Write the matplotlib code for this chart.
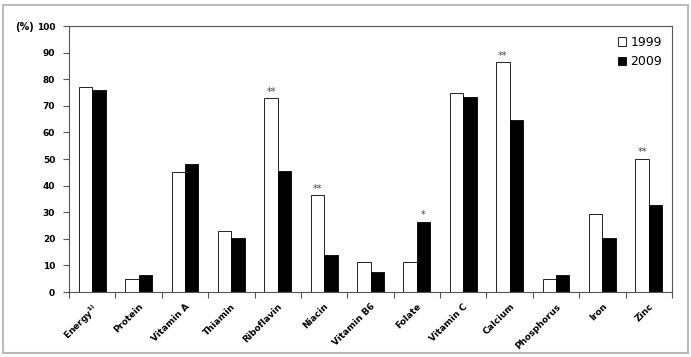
import numpy as np
import matplotlib.pyplot as plt
from matplotlib.patches import Rectangle

# nutrients and % below requirement
nutrients = ['Energy$^{\\mathbf{1)}}$', 'Protein', 'Vitamin A', 'Thiamin', 'Riboflavin', 'Niacin',
             'Vitamin B6', 'Folate', 'Vitamin C', 'Calcium', 'Phosphorus', 'Iron', 'Zinc']
y1999 = [77.2, 4.8, 45.3, 22.8, 72.8, 36.3, 11.3, 11.3, 75.0, 86.3, 4.8, 29.5, 50.0]
y2009 = [76.0, 6.5, 48.0, 20.3, 45.5, 14.0, 7.5, 26.5, 73.5, 64.7, 6.5, 20.3, 32.8]
# significance marks: (index, series, text)
marks = [(4, 0, '**'), (5, 0, '**'), (7, 1, '*'), (9, 0, '**'), (12, 0, '**')]

fig = plt.figure(figsize=(6.91, 3.57), dpi=100)
ax = fig.add_axes([0.0999, 0.182, 0.8726, 0.745])

x = np.arange(len(nutrients))
w = 0.29
ax.bar(x - w/2, y1999, w, color='white', edgecolor='black', linewidth=0.6, label='1999')
ax.bar(x + w/2, y2009, w, color='black', edgecolor='black', linewidth=0.6, label='2009')

vals = [y1999, y2009]
for i, s, t in marks:
    xx = x[i] - w/2 if s == 0 else x[i] + w/2
    ax.text(xx, vals[s][i] + 0.6, t, ha='center', va='bottom', fontsize=7, color='#444444')

ax.set_xlim(-0.5, len(nutrients) - 0.5)
ax.set_ylim(0, 100)
ax.set_yticks(np.arange(0, 101, 10))
ax.set_xticks(x)
ax.set_xticklabels(nutrients, rotation=45, ha='right', rotation_mode='anchor',
                   fontsize=6.5, fontweight='bold')
ax.set_xticks(np.arange(-0.5, len(nutrients), 1), minor=True)
ax.tick_params(axis='x', which='major', length=0, pad=7)
ax.tick_params(axis='x', which='minor', length=4, width=0.8, color='#555555')
ax.tick_params(axis='y', length=4, width=0.8, color='#555555', labelsize=6.5, pad=6)
for lab in ax.get_yticklabels():
    lab.set_fontweight('bold')

for sp in ax.spines.values():
    sp.set_color('#555555')
    sp.set_linewidth(0.8)

fig.text(0.022, 0.925, '(%)', fontsize=7, fontweight='bold', va='center')

ax.legend(loc='upper right', frameon=False, fontsize=9, handlelength=0.7, handleheight=0.7,
          handletextpad=0.3, labelspacing=0.5, borderaxespad=0.4)

fig.patches.append(Rectangle((0.005, 0.012), 0.99, 0.975, transform=fig.transFigure,
                             fill=False, edgecolor='#bbbbbb', linewidth=1.5))

fig.savefig('out.png', dpi=100)
